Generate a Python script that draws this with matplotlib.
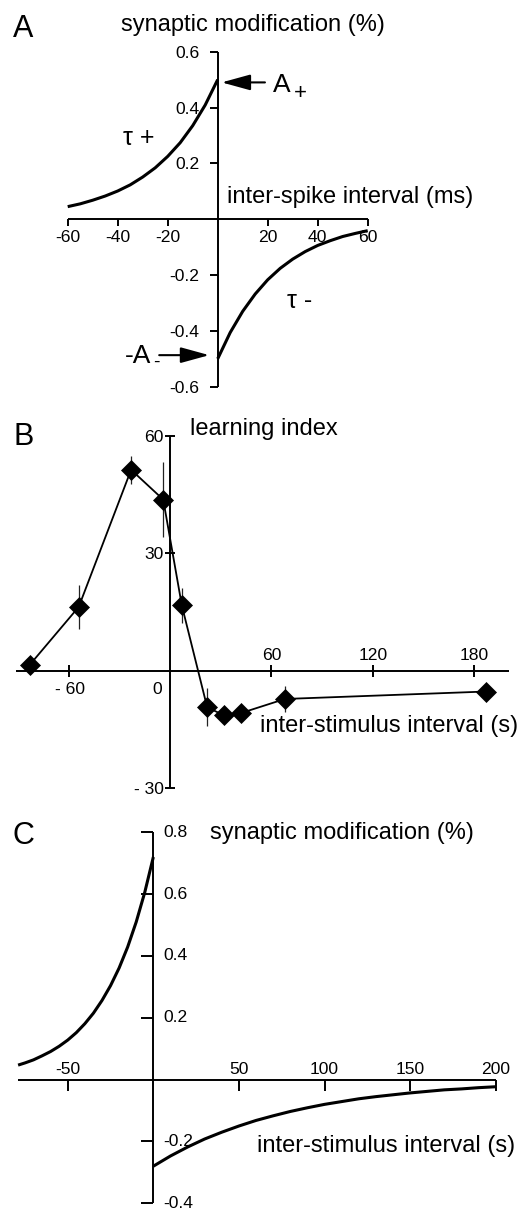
import matplotlib
matplotlib.use('Agg')
import matplotlib.pyplot as plt

plt.rcParams['font.family'] = ['Liberation Sans', 'DejaVu Sans']
plt.rcParams['mathtext.default'] = 'regular'

W, H = 522, 1210

# ---------------- Panel A: STDP window (inter-spike interval, ms) ----------------
a_pre_x = [-60, -55, -50, -45, -40, -35, -30, -25, -20, -15, -10, -5, 0]
a_pre_y = [0.045, 0.055, 0.068, 0.083, 0.101, 0.123, 0.151, 0.184, 0.225, 0.274, 0.335, 0.409, 0.50]
a_post_x = [0, 5, 10, 15, 20, 25, 30, 35, 40, 45, 50, 55, 60]
a_post_y = [-0.50, -0.406, -0.330, -0.268, -0.217, -0.176, -0.143, -0.116, -0.094, -0.077, -0.062, -0.051, -0.041]
a_xticks = [-60, -40, -20, 20, 40, 60]
a_xticklabels = ['-60', '-40', '-20', '20', '40', '60']
a_yticks = [0.6, 0.4, 0.2, -0.2, -0.4, -0.6]
a_yticklabels = ['0.6', '0.4', '0.2', '-0.2', '-0.4', '-0.6']

# ---------------- Panel B: learning index vs inter-stimulus interval (s) ----------------
b_x = [-83, -54, -23, -4, 7, 22, 32, 42, 68, 187]
b_y = [1.5, 16.3, 51.3, 43.7, 16.7, -9.3, -11.4, -10.8, -7.2, -5.3]
b_err = [0, 5.6, 3.6, 9.6, 4.4, 4.9, 0, 0, 3.2, 0]
b_xticks = [-60, 60, 120, 180]
b_xlabel_vals = [-60, 0, 60, 120, 180]
b_xlabel_text = ['- 60', '0', '60', '120', '180']
b_yticks = [-30, 30, 60]
b_yticklabels = ['- 30', '30', '60']

# ---------------- Panel C: synaptic modification vs inter-stimulus interval (s) ----------------
c_pre_x = [-79, -75, -70, -65, -60, -55, -50, -45, -40, -35, -30, -25, -20, -15, -10, -5, 0]
c_pre_y = [0.047, 0.054, 0.064, 0.077, 0.091, 0.108, 0.128, 0.152, 0.181, 0.215, 0.256,
           0.304, 0.361, 0.429, 0.510, 0.606, 0.72]
c_post_x = [0, 10, 20, 30, 40, 50, 60, 70, 80, 90, 100, 110, 120, 130, 140, 150, 160, 170, 180, 190, 200]
c_post_y = [-0.280, -0.247, -0.218, -0.192, -0.170, -0.150, -0.132, -0.117, -0.103, -0.091, -0.080,
            -0.071, -0.062, -0.055, -0.049, -0.043, -0.038, -0.033, -0.030, -0.026, -0.023]
c_xticks = [-50, 50, 100, 150, 200]
c_xticklabels = ['-50', '50', '100', '150', '200']
c_yticks = [0.8, 0.6, 0.4, 0.2, -0.2, -0.4]
c_yticklabels = ['0.8', '0.6', '0.4', '0.2', '-0.2', '-0.4']

fig = plt.figure(figsize=(W / 100, H / 100), dpi=100)
fig.patch.set_facecolor('white')

AX_LW = 1.4
TXT = 17
TICK = 12.6


def px_axes(l, t, r, b):
    return fig.add_axes([l / W, 1 - b / H, (r - l) / W, (b - t) / H])


def ftext(x, y, s, **kw):
    kw.setdefault('va', 'baseline')
    kw.setdefault('ha', 'left')
    kw.setdefault('fontsize', TXT)
    return fig.text(x / W, 1 - y / H, s, **kw)


def cross_axes(ax):
    for s in ['top', 'right']:
        ax.spines[s].set_visible(False)
    ax.spines['left'].set_position(('data', 0))
    ax.spines['bottom'].set_position(('data', 0))
    for s in ['left', 'bottom']:
        ax.spines[s].set_linewidth(AX_LW)
        ax.spines[s].set_capstyle('butt')
    ax.patch.set_visible(False)


def tlabel(ax, x, y, s, dx, dy, ha='center'):
    ax.annotate(s, xy=(x, y), xytext=(dx, dy), textcoords='offset points',
                ha=ha, va='baseline', fontsize=TICK, annotation_clip=False)


# ---------------- Panel A ----------------
axA = px_axes(67.7, 51.7, 367.7, 386.7)
axA.set_xlim(-60, 60)
axA.set_ylim(-0.6, 0.6)
cross_axes(axA)
axA.plot(a_pre_x, a_pre_y, color='black', lw=2.2, clip_on=False, solid_capstyle='butt')
axA.plot(a_post_x, a_post_y, color='black', lw=2.2, clip_on=False, solid_capstyle='butt')
axA.set_xticks(a_xticks, a_xticklabels)
axA.set_yticks(a_yticks, a_yticklabels)
axA.tick_params(axis='x', direction='out', length=5, width=AX_LW, pad=2.5, labelsize=TICK)
axA.tick_params(axis='y', direction='out', length=6, width=AX_LW, pad=7, labelsize=TICK)

arrow_style = dict(arrowstyle='-|>,head_length=0.8,head_width=0.22', mutation_scale=22,
                   lw=1.5, color='black', shrinkA=0, shrinkB=0)
axA.annotate('', xy=(a_pre_x[-1] + 1.6, a_pre_y[-1] - 0.01), xytext=(18.9, a_pre_y[-1] - 0.01),
             arrowprops=arrow_style, annotation_clip=False)
axA.annotate('', xy=(a_post_x[0] - 3.4, a_post_y[0] + 0.013), xytext=(-23.4, a_post_y[0] + 0.013),
             arrowprops=arrow_style, annotation_clip=False)

ftext(13, 37, 'A', fontsize=22)
ftext(252.5, 30.5, 'synaptic modification (%)', ha='center')
ftext(226.7, 203.5, 'inter-spike interval (ms)')
ftext(273, 91.7, 'A', fontsize=19)
ftext(300, 99, '+', fontsize=16, ha='center')
ftext(125, 363.3, '-A', fontsize=19)
ftext(156, 367, '-', fontsize=14, ha='center')
ftext(123, 145, 'τ +', fontsize=18)
ftext(286.7, 308.3, 'τ -', fontsize=18)

# ---------------- Panel B ----------------
axB = px_axes(16.2, 435.7, 508.8, 788.3)
axB.set_xlim(-91, 200.5)
axB.set_ylim(-30, 60)
cross_axes(axB)
axB.errorbar(b_x, b_y, yerr=b_err, fmt='none', ecolor='#222222', elinewidth=0.9, capsize=0,
             clip_on=False, zorder=2)
axB.plot(b_x, b_y, color='black', lw=1.3, marker='D', ms=10, mfc='black', mec='black',
         mew=0.5, clip_on=False, zorder=3)
axB.set_xticks(b_xticks, [''] * len(b_xticks))
axB.tick_params(axis='x', direction='inout', length=8, width=AX_LW)
axB.set_yticks(b_yticks, b_yticklabels)
axB.tick_params(axis='y', direction='inout', length=7, width=AX_LW, pad=1.2, labelsize=TICK)
for v, s in zip(b_xlabel_vals, b_xlabel_text):
    if v < 0:
        tlabel(axB, v, 0, s, 1, -16.9)
    elif v == 0:
        tlabel(axB, v, 0, s, -9.4, -16.9)
    else:
        tlabel(axB, v, 0, s, 0, 7.9)

ftext(13, 445, 'B', fontsize=22)
ftext(190, 435.5, 'learning index')
ftext(260, 731.7, 'inter-stimulus interval (s)')

# ---------------- Panel C ----------------
axC = px_axes(18.1, 832.3, 495.7, 1203.3)
axC.set_xlim(-79, 200)
axC.set_ylim(-0.4, 0.8)
cross_axes(axC)
axC.plot(c_pre_x, c_pre_y, color='black', lw=2.2, clip_on=False, solid_capstyle='butt')
axC.plot(c_post_x, c_post_y, color='black', lw=2.2, clip_on=False, solid_capstyle='butt')
axC.set_xticks(c_xticks, [''] * len(c_xticks))
axC.tick_params(axis='x', direction='out', length=7.7, width=AX_LW)
axC.set_yticks(c_yticks, [''] * len(c_yticks))
axC.tick_params(axis='y', direction='out', length=8.4, width=AX_LW)
for v, s in zip(c_xticks, c_xticklabels):
    tlabel(axC, v, 0, s, 0, 4.3)
for v, s in zip(c_yticks, c_yticklabels):
    tlabel(axC, 0, v, s, 7.0, -3.2, ha='left')

ftext(12, 844, 'C', fontsize=22)
ftext(210, 839, 'synaptic modification (%)')
ftext(257, 1151.7, 'inter-stimulus interval (s)')

fig.savefig('out.png', dpi=100, facecolor='white')
